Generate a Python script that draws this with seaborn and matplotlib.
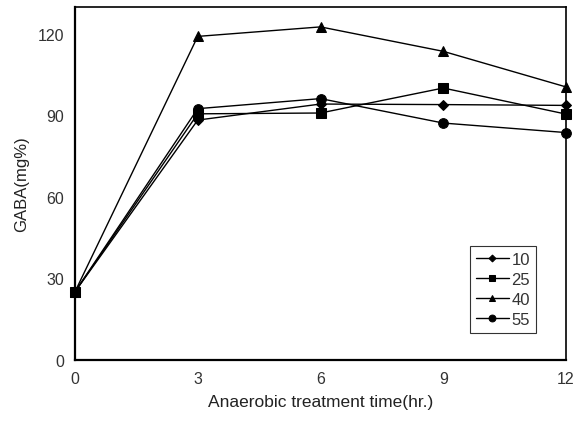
import matplotlib
matplotlib.use("Agg")
import matplotlib.pyplot as plt
import numpy as np
import pandas as pd
import seaborn as sns

# GABA content over anaerobic treatment time, per treatment temperature
times = [0, 3, 6, 9, 12]
series_names = ["10", "25", "40", "55"]
gaba_10 = [25, 88.2, 94.1, 93.9, 93.6]
gaba_25 = [25, 90.5, 90.8, 100.0, 90.4]
gaba_40 = [25, 119.0, 122.5, 113.5, 100.4]
gaba_55 = [25, 92.4, 96.1, 87.1, 83.6]

x_ticks = [0, 3, 6, 9, 12]
y_ticks = [0, 30, 60, 90, 120]

frames = []
for name, vals in zip(series_names, [gaba_10, gaba_25, gaba_40, gaba_55]):
    frames.append(pd.DataFrame({"time": times, "gaba": vals, "group": name}))
df = pd.concat(frames, ignore_index=True)

sns.set_theme(style="white")
plt.rcParams["font.family"] = ["Liberation Sans", "DejaVu Sans"]

fig = plt.figure(figsize=(5.75, 4.27), dpi=100)
ax = fig.add_axes([0.1304, 0.1553, 0.8540, 0.8271])

marker_list = ["D", "s", "^", "o"]
sizes = {"10": 5, "25": 7, "40": 7, "55": 7}
for name, mk in zip(series_names, marker_list):
    sub = df[df["group"] == name]
    sns.lineplot(data=sub, x="time", y="gaba", ax=ax, color="black",
                 marker=mk, markersize=sizes[name], markeredgecolor="black",
                 markerfacecolor="black", linewidth=1.0, label=name,
                 clip_on=False, zorder=3)

ax.set_xlim(0, 12)
ax.set_ylim(0, 130)
ax.set_xticks(x_ticks)
ax.set_yticks(y_ticks)
ax.tick_params(axis="x", direction="in", length=5, width=1, colors="black",
               labelcolor="#333333", labelsize=11.5, pad=8)
ax.tick_params(axis="y", direction="out", length=5, width=1, colors="black",
               labelcolor="#333333", labelsize=11.5, pad=3)
ax.tick_params(axis="x", which="both", top=False)
ax.tick_params(axis="y", which="both", right=False)

for side, sp in ax.spines.items():
    sp.set_visible(True)
    sp.set_color("black")
    sp.set_linewidth(1.6 if side in ("left", "bottom") else 1.2)
    sp.set_zorder(4)

ax.set_xlabel("Anaerobic treatment time(hr.)", fontsize=12.5, color="#222222",
              labelpad=6)
ax.set_ylabel("GABA(mg%)", fontsize=12, color="#222222", labelpad=6)

leg = ax.legend(loc="lower right", bbox_to_anchor=(0.939, 0.076),
                frameon=True, fancybox=False, fontsize=12, handlelength=2.0,
                handletextpad=0.15, borderpad=0.35, labelspacing=0.3,
                borderaxespad=0, markerscale=0.7)
leg.get_frame().set_edgecolor("black")
leg.get_frame().set_linewidth(0.8)
for t in leg.get_texts():
    t.set_color("#333333")

ax.grid(False)
fig.savefig("out.png", dpi=100)
